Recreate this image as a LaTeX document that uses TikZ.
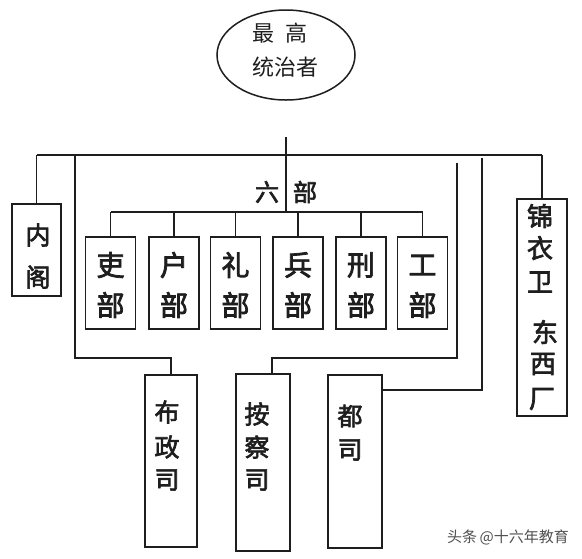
\documentclass[tikz,border=0pt]{standalone}
\usepackage{fontspec}
\newfontfamily\cjk{Noto Sans CJK SC}
\newfontfamily\cjkm[FakeBold=2.6]{Noto Sans CJK SC}
\newfontfamily\cjkk[FakeBold=2.6]{Noto Sans CJK SC}
\usetikzlibrary{shapes.geometric}
\definecolor{ink}{HTML}{1E1E1E}
\definecolor{wm}{HTML}{505050}
\tikzset{
  conn/.style={draw=ink, line width=1.4pt},
  box/.style={draw=ink, line width=1.6pt, rectangle, inner sep=0pt, fill=white},
  oval/.style={draw=ink, line width=1.5pt, ellipse, inner sep=0pt},
  ch/.style={inner sep=0pt, text=ink, font=\cjk\fontsize{#1}{#1}\selectfont},
  ch/.default=22,
  chb/.style={inner sep=0pt, text=ink, font=\cjkm\fontsize{#1}{#1}\selectfont},
  chb/.default=24,
  chk/.style={inner sep=0pt, text=ink, font=\cjkk\fontsize{#1}{#1}\selectfont},
  chk/.default=24,
}
\begin{document}
\begin{tikzpicture}[x=1pt,y=-1pt]
\useasboundingbox[fill=white] (0,0) rectangle (582,558);

% top ruler
\node[oval, minimum width=138, minimum height=90] (ruler) at (286,55) {};
\node[ch=22] (rt1) at (280,33) {最\hspace{0.5em}高};
\node[ch=22] (rt2) at (285,67) {统治者};

% boxes
\node[box, minimum width=49, minimum height=92] (neige) at (36.5,250) {};
\node[box, minimum width=50, minimum height=92] (li)   at (110.5,283) {};
\node[box, minimum width=50, minimum height=92] (hu)   at (174,283) {};
\node[box, minimum width=50, minimum height=92] (lii)  at (235.5,283) {};
\node[box, minimum width=50, minimum height=92] (bing) at (298,283) {};
\node[box, minimum width=50, minimum height=92] (xing) at (361,283) {};
\node[box, minimum width=50, minimum height=92] (gong) at (422.5,283) {};
\node[box, minimum width=50, minimum height=217] (jinyi) at (542,307.5) {};
\node[box, minimum width=52, minimum height=172] (bz) at (171,461) {};
\node[box, minimum width=54, minimum height=177] (ac) at (263,462.5) {};
\node[box, minimum width=54, minimum height=173] (ds) at (355,461.5) {};

% texts
\node[chk=25] (ng1) at (38,235) {内};
\node[chk=25] (ng2) at (38,277) {阁};
\node[chk=24] (lb1) at (267,192) {六};
\node[chk=24] (lb2) at (305,192) {部};
\foreach \n/\c in {li/吏, hu/户, lii/礼, bing/兵, xing/刑, gong/工}{
  \node[chk=28] (\n-a) at (\n.center |- 0,265) {\c};
  \node[chk=28] (\n-b) at (\n.center |- 0,305) {部};
}
\node[chb=26] (jy1) at (540,216) {锦};
\node[chb=26] (jy2) at (540,248) {衣};
\node[chb=26] (jy3) at (540,282) {卫};
\node[chb=26] (jy4) at (545,332) {东};
\node[chb=26] (jy5) at (543,364) {西};
\node[chb=26] (jy6) at (542,399) {厂};
\node[chb=25] (bz1) at (167,412) {布};
\node[chb=25] (bz2) at (167,447) {政};
\node[chb=25] (bz3) at (167,480) {司};
\node[chb=25] (ac1) at (257,414) {按};
\node[chb=25] (ac2) at (257,447) {察};
\node[chb=25] (ac3) at (257,480) {司};
\node[chb=25] (ds1) at (350,416) {都};
\node[chb=25] (ds2) at (350,450) {司};

\node[inner sep=0pt, text=wm, font=\cjk\fontsize{15}{15}\selectfont] (wmark) at (508,537) {头条\,@十六年教育};

% coordinates
\coordinate (topA) at (286,137);
\coordinate (sixJ) at (286,212);
\coordinate (mL) at (36.5,155);
\coordinate (mR) at (542,155);
\coordinate (c1) at (75,155);
\coordinate (c1b) at (171,358);
\coordinate (c2) at (457,163);
\coordinate (c2b) at (272,358);
\coordinate (c3) at (482,158);
\coordinate (c3b) at (382,390);

% connectors
\draw[conn] (topA) -- (sixJ);
\draw[conn, line width=1.8pt] (mL) -- (mR);
\draw[conn] (mL) -- (neige.north);
\draw[conn] (mR) -- (jinyi.north);
\draw[conn] (c1) |- (c1b) -- (bz.north);
\draw[conn] (c2) |- (c2b) -- (c2b |- ac.north);
\draw[conn] (c3) |- (c3b);
\draw[conn] (li.north |- sixJ) -- (gong.north |- sixJ);
\foreach \n in {li,hu,lii,bing,xing,gong}{
  \draw[conn] (\n.north |- sixJ) -- (\n.north);
}
\end{tikzpicture}
\end{document}
